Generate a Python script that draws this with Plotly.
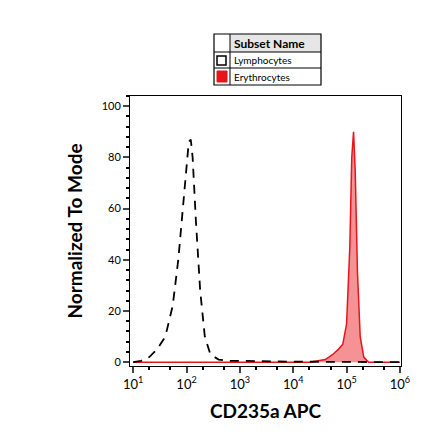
import plotly.graph_objects as go

lym_x = [10, 14, 20, 28, 40, 55, 70, 85, 100, 110, 120, 130, 150, 180, 220, 280, 400, 600, 1000, 3000, 10000, 100000, 1000000]
lym_y = [0, 0.5, 2, 5, 10, 22, 40, 60, 78, 86, 87, 80, 55, 28, 10, 3, 1, 0.5, 0.5, 0.3, 0.2, 0.1, 0]
ery_x = [10, 1000, 20000, 40000, 55000, 70000, 85000, 100000, 115000, 125000, 135000, 145000, 160000, 180000, 210000, 260000, 1000000]
ery_y = [0, 0, 0, 1, 3, 5, 7, 15, 45, 80, 90, 75, 35, 10, 2, 0, 0]
tick_vals = [10, 100, 1000, 10000, 100000, 1000000]
tick_text = ["10<sup>1</sup>", "10<sup>2</sup>", "10<sup>3</sup>", "10<sup>4</sup>", "10<sup>5</sup>", "10<sup>6</sup>"]

PL, PR, PT, PB = 122, 393, 88, 358
fig = go.Figure()
fig.add_trace(go.Scatter(x=ery_x, y=ery_y, mode="lines", fill="tozeroy",
                         line=dict(color="#e8141c", width=1.5), fillcolor="rgba(240,100,105,0.7)"))
fig.add_trace(go.Scatter(x=lym_x, y=lym_y, mode="lines",
                         line=dict(color="black", width=1.8, dash="9px,7px")))
font = "Lato, Open Sans, sans-serif"
fig.update_layout(
    width=440, height=441, margin=dict(l=PL, r=440 - PR, t=PT, b=441 - PB, autoexpand=False),
    plot_bgcolor="white", paper_bgcolor="white", showlegend=False,
    font=dict(family=font, color="black", size=12),
    xaxis=dict(type="log", range=[0.94, 6.02], tickvals=tick_vals, ticktext=tick_text,
               ticks="outside", ticklen=6, tickwidth=1.5, showgrid=False, zeroline=False,
               showline=True, linecolor="black", mirror=True, tickfont=dict(size=13),
               minor=dict(ticks="outside", ticklen=3, tickcolor="black", showgrid=False),
               title=dict(text="<b>CD235a APC</b>", font=dict(size=19), standoff=14)),
    yaxis=dict(range=[-1.5, 104], tickvals=[0, 20, 40, 60, 80, 100],
               ticks="outside", ticklen=6, tickwidth=1.5, showgrid=False, zeroline=False,
               showline=True, linecolor="black", mirror=True, tickfont=dict(size=11),
               minor=dict(ticks="outside", ticklen=3, dtick=4, tickcolor="black"),
               title=dict(text="<b>Normalized To Mode</b>", font=dict(size=19), standoff=14)),
)
def px(x): return (x - PL) / (PR - PL)
def py(y): return (PB - y) / (PB - PT)
L, M, R = 206, 222, 313
rows = [26, 44, 60, 77]
fig.add_shape(type="rect", xref="paper", yref="paper", x0=px(M), x1=px(R), y0=py(rows[1]), y1=py(rows[0]),
              fillcolor="#e6e6e6", line_width=0, layer="below")
fig.add_shape(type="rect", xref="paper", yref="paper", x0=px(L), x1=px(R), y0=py(rows[3]), y1=py(rows[0]),
              line=dict(color="black", width=1.2))
fig.add_shape(type="line", xref="paper", yref="paper", x0=px(M), x1=px(M), y0=py(rows[3]), y1=py(rows[0]),
              line=dict(color="black", width=1))
for r in rows[1:3]:
    fig.add_shape(type="line", xref="paper", yref="paper", x0=px(L), x1=px(R), y0=py(r), y1=py(r),
                  line=dict(color="black", width=1))
fig.add_shape(type="rect", xref="paper", yref="paper", x0=px(209), x1=px(218), y0=py(57), y1=py(48),
              line=dict(color="black", width=1.5), fillcolor="white")
fig.add_shape(type="rect", xref="paper", yref="paper", x0=px(209), x1=px(219), y0=py(74), y1=py(63),
              line=dict(color="#e8141c", width=1), fillcolor="#e8141c")
for txt, r, b in [("<b>Subset Name</b>", 35, True), ("Lymphocytes", 52, False), ("Erythrocytes", 69, False)]:
    fig.add_annotation(xref="paper", yref="paper", x=px(224), y=py(r), text=txt, showarrow=False,
                       xanchor="left", yanchor="middle", font=dict(size=12 if b else 10, family=font))
fig.write_html("out.html")
